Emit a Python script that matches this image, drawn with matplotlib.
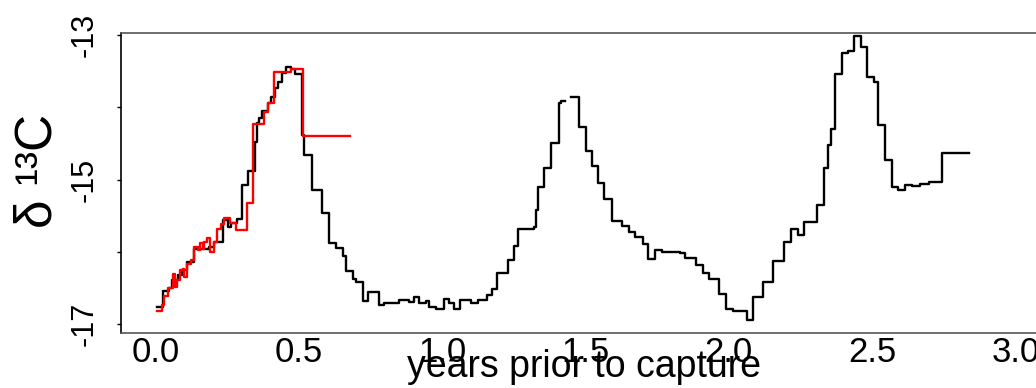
import numpy as np
import matplotlib
matplotlib.use("Agg")
import matplotlib.pyplot as plt
from matplotlib import font_manager

# ---------------- data (years prior to capture, delta 13C) ----------------
black_x = [0.005, 0.026, 0.047, 0.057, 0.078, 0.092, 0.110, 0.134, 0.186, 0.204,
           0.235, 0.253, 0.263, 0.284, 0.301, 0.322, 0.347, 0.354, 0.361, 0.371,
           0.392, 0.402, 0.416, 0.427, 0.441, 0.455, 0.472, 0.486, 0.510, 0.517,
           0.545, 0.580, 0.605, 0.629, 0.653, 0.664, 0.688, 0.699, 0.723, 0.742,
           0.779, 0.796, 0.848, 0.883, 0.901, 0.918, 0.943, 0.953, 0.979, 1.005,
           1.023, 1.040, 1.064, 1.099, 1.124, 1.155, 1.173, 1.193, 1.228, 1.249,
           1.263, 1.319, 1.326, 1.333, 1.357, 1.381, 1.406, 1.416, 1.430, 1.451,
           1.476, 1.500, 1.521, 1.542, 1.566, 1.591, 1.629, 1.650, 1.674, 1.699,
           1.719, 1.744, 1.768, 1.828, 1.848, 1.887, 1.911, 1.932, 1.967, 1.991,
           2.016, 2.064, 2.085, 2.120, 2.155, 2.193, 2.218, 2.242, 2.263, 2.309,
           2.333, 2.347, 2.357, 2.371, 2.395, 2.416, 2.437, 2.462, 2.483, 2.507,
           2.521, 2.545, 2.570, 2.591, 2.615, 2.639, 2.667, 2.699, 2.744, 2.838]
black_y = [-16.76, -16.54, -16.50, -16.39, -16.32, -16.25, -16.14, -15.96, -15.93, -15.87,
           -15.56, -15.66, -15.60, -15.55, -15.08, -14.88, -14.48, -14.22, -14.15, -14.05,
           -13.94, -13.86, -13.73, -13.65, -13.53, -13.44, -13.47, -13.54, -14.38, -14.66,
           -15.15, -15.46, -15.88, -15.95, -16.06, -16.27, -16.38, -16.42, -16.68, -16.56,
           -16.74, -16.71, -16.67, -16.70, -16.63, -16.71, -16.68, -16.76, -16.79, -16.65,
           -16.71, -16.79, -16.67, -16.71, -16.67, -16.60, -16.52, -16.29, -16.11, -15.92,
           -15.69, -15.66, -15.42, -15.10, -14.84, -14.49, -13.94, -13.91, np.nan, -13.86,
           -14.27, -14.61, -14.81, -15.05, -15.27, -15.57, -15.64, -15.73, -15.80, -15.89,
           -16.10, -15.98, -16.00, -16.02, -16.09, -16.18, -16.29, -16.38, -16.58, -16.79,
           -16.82, -16.94, -16.63, -16.42, -16.13, -15.87, -15.69, -15.77, -15.59, -15.35,
           -14.84, -14.52, -14.30, -13.54, -13.25, -13.22, -13.01, -13.17, -13.58, -13.65,
           -14.25, -14.73, -15.10, -15.15, -15.08, -15.09, -15.06, -15.03, -14.63, -14.63]

red_x = [0.005, 0.023, 0.030, 0.044, 0.061, 0.068, 0.075, 0.085, 0.096, 0.099,
         0.110, 0.124, 0.134, 0.148, 0.155, 0.166, 0.169, 0.179, 0.190, 0.204,
         0.214, 0.228, 0.239, 0.260, 0.280, 0.319, 0.340, 0.378, 0.392, 0.413,
         0.472, 0.514, 0.678]
red_y = [-16.82, -16.74, -16.61, -16.50, -16.31, -16.49, -16.39, -16.25, -16.24, -16.35,
         -16.17, -16.11, -15.93, -15.98, -15.88, -15.96, -15.87, -15.81, -16.00, -15.87,
         -15.69, -15.62, -15.53, -15.60, -15.70, -15.33, -14.23, -14.07, -13.94, -13.51,
         -13.47, -14.40, -14.40]

x_ticks = [0.0, 0.5, 1.0, 1.5, 2.0, 2.5, 3.0]
x_tick_labels = ["0.0", "0.5", "1.0", "1.5", "2.0", "2.5", "3.0"]
y_ticks = [-17, -15, -13]
y_tick_labels = ["-17", "-15", "-13"]
y_minor_ticks = [-16, -14]

# ---------------- fonts ----------------
names = {f.name for f in font_manager.fontManager.ttflist}
base_font = "Liberation Sans" if "Liberation Sans" in names else "DejaVu Sans"
plt.rcParams["font.family"] = [base_font, "DejaVu Sans"]

fig = plt.figure(figsize=(10.36, 3.88), dpi=100)
W, H = 1036.0, 388.0
ax = fig.add_axes([121 / W, 55 / H, (1050 - 121) / W, 300 / H])

ax.step(black_x, black_y, where="post", color="black", lw=1.7)
ax.step(red_x, red_y, where="post", color="#ff0000", lw=1.7)

ax.set_xlim(-0.12, 3.12)
ax.set_ylim(-17.125, -12.97)

for s in ["top", "bottom"]:
    ax.spines[s].set_color("#555555")
    ax.spines[s].set_linewidth(1.2)
ax.spines["left"].set_color("black")
ax.spines["left"].set_linewidth(1.2)
ax.spines["right"].set_visible(False)

ax.set_xticks(x_ticks)
ax.set_xticklabels(x_tick_labels, fontsize=25)
ax.tick_params(axis="x", length=0, pad=2)

ax.set_yticks(y_ticks)
ax.set_yticklabels(y_tick_labels, fontsize=22, rotation=90, va="center")
ax.set_yticks(y_minor_ticks, minor=True)
ax.tick_params(axis="y", which="both", direction="out", length=3, width=1, pad=12.5)

ax.set_xlabel("years prior to capture", fontsize=27)
ax.xaxis.label.set_va("baseline")
ax.xaxis.set_label_coords(0.498, -0.148)
ax.set_ylabel("δ ¹³C", fontsize=37)
ax.yaxis.set_label_coords(-0.063, 0.54)

fig.savefig("out.png", dpi=100)
